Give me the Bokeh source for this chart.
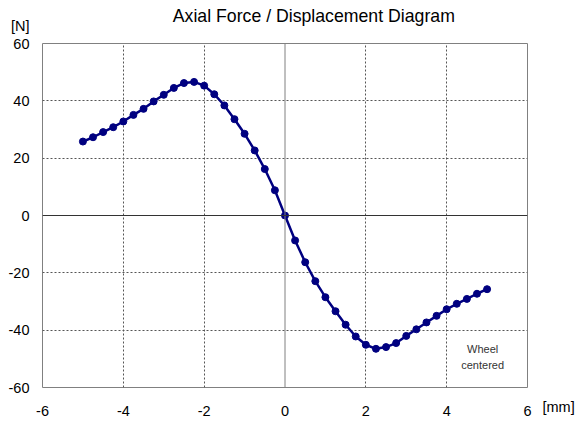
from bokeh.plotting import figure
from bokeh.models import (Range1d, FixedTicker, Span, Label, LinearAxis,
                          CustomJSTickFormatter)
from bokeh.embed import file_html
from bokeh.resources import INLINE

x_vals = [-5.0, -4.75, -4.5, -4.25, -4.0, -3.75, -3.5, -3.25, -3.0, -2.75, -2.5, -2.25, -2.0,
          -1.75, -1.5, -1.25, -1.0, -0.75, -0.5, -0.25, 0.0, 0.25, 0.5, 0.75, 1.0, 1.25, 1.5,
          1.75, 2.0, 2.25, 2.5, 2.75, 3.0, 3.25, 3.5, 3.75, 4.0, 4.25, 4.5, 4.75, 5.0]
force = [25.8, 27.3, 29.1, 30.8, 32.8, 35.1, 37.2, 39.8, 42.1, 44.5, 46.2, 46.6, 45.3,
         42.3, 38.4, 33.6, 28.5, 22.7, 16.2, 8.8, 0.0, -8.7, -16.3, -22.9, -28.5, -33.4, -38.1,
         -42.2, -45.1, -46.5, -45.9, -44.5, -42.0, -39.7, -37.3, -35.0, -32.7, -30.8, -29.1, -27.3, -25.7]
x_ticks = [-6, -4, -2, 0, 2, 4, 6]
y_ticks = [-60, -40, -20, 0, 20, 40, 60]
x_grid = [-4, -2, 2, 4]
y_grid = [-40, -20, 20, 40]
title_text = "Axial Force / Displacement Diagram"
y_unit = "[N]"
x_unit = "[mm]"
note_lines = ["Wheel", "centered"]

FONT = "Liberation Sans"
LABEL_SIZE = "14.5px"

p = figure(width=577, height=421, output_backend="svg", toolbar_location=None,
           x_range=Range1d(-6, 6), y_range=Range1d(-60, 60),
           min_border_left=42, min_border_right=49, min_border_top=43, min_border_bottom=34)
p.background_fill_color = "white"
p.border_fill_color = "white"
p.outline_line_color = "#808080"
p.outline_line_width = 1


def plain_axis(ax, size=LABEL_SIZE):
    ax.axis_line_color = None
    ax.major_tick_line_color = None
    ax.minor_tick_line_color = None
    ax.major_tick_out = 0
    ax.major_tick_in = 0
    ax.major_label_text_font = FONT
    ax.major_label_text_font_size = size
    ax.major_label_text_color = "black"


# x axis (below)
plain_axis(p.xaxis[0])
p.xaxis[0].ticker = FixedTicker(ticks=x_ticks)
p.xaxis[0].formatter = CustomJSTickFormatter(code="return tick.toString();")
p.xaxis[0].major_label_standoff = 18

# y axis (left); the unit "[N]" sits one line above the top tick label
unit_tick = y_ticks[-1] - 1e-4
p.yaxis[0].ticker = FixedTicker(ticks=y_ticks + [unit_tick])
p.yaxis[0].formatter = CustomJSTickFormatter(
    args=dict(u=y_unit, ut=unit_tick),
    code="return (tick == ut) ? (u + '\\n') : tick.toString();")
plain_axis(p.yaxis[0])
p.yaxis[0].major_label_standoff = 13
p.yaxis[0].major_label_text_line_height = 2.2

# title, centred above the plot
p.extra_x_ranges = {"title": Range1d(-6, 6)}
title_axis = LinearAxis(x_range_name="title", ticker=FixedTicker(ticks=[0.713]),
                        formatter=CustomJSTickFormatter(args=dict(t=title_text), code="return t;"))
plain_axis(title_axis, "17.7px")
title_axis.major_label_standoff = 18
p.add_layout(title_axis, "above")

# unit "[mm]" right of the last x tick label
p.extra_y_ranges = {"unit": Range1d(-60, 60)}
unit_axis = LinearAxis(y_range_name="unit", ticker=FixedTicker(ticks=[y_ticks[0]]),
                       formatter=CustomJSTickFormatter(args=dict(u=x_unit), code="return '\\n' + u;"))
plain_axis(unit_axis)
unit_axis.major_label_standoff = 15
unit_axis.major_label_text_line_height = 2.4
p.add_layout(unit_axis, "right")

# grid
p.xgrid[0].ticker = FixedTicker(ticks=x_grid)
p.ygrid[0].ticker = FixedTicker(ticks=y_grid)
for g in (p.xgrid[0], p.ygrid[0]):
    g.grid_line_color = "#555555"
    g.grid_line_dash = "2 2"
    g.grid_line_width = 1

p.add_layout(Span(location=0, dimension="height", line_color="#808080", line_width=1))
p.add_layout(Span(location=0, dimension="width", line_color="#333333", line_width=1))

p.line(x_vals, force, line_color="#000080", line_width=2.5)
p.scatter(x_vals, force, marker="circle", size=7, fill_color="#000080", line_color="#000080")

p.add_layout(Label(x=4.89, y=-46.7, text=note_lines[0], text_font=FONT, text_font_size="11px",
                   text_color="#333333", text_align="center", text_baseline="middle"))
p.add_layout(Label(x=4.89, y=-52.3, text=note_lines[1], text_font=FONT, text_font_size="11px",
                   text_color="#333333", text_align="center", text_baseline="middle"))

open("out.html", "w").write(file_html(p, INLINE))
